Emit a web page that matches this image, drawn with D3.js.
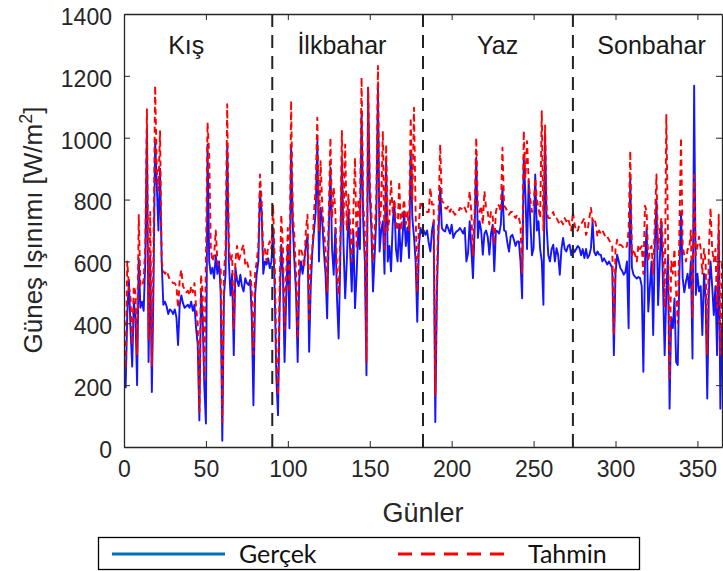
<!DOCTYPE html>
<html>
<head>
<meta charset="utf-8">
<script src="https://cdn.jsdelivr.net/npm/d3@7/dist/d3.min.js"></script>
<style>
  body { margin: 0; background: #fff; }
  svg { display: block; }
  .tick text { font-family: "Liberation Sans", Arial, sans-serif; font-size: 23px; fill: #262626; }
  .tick line { stroke: #262626; }
</style>
</head>
<body>
<svg id="chart" width="723" height="571"></svg>
<script>
// Günlük gerçek ve tahmin edilen güneş ışınımı (W/m2), gün 1..365
var gercek = [
  190, 430, 540, 380, 260, 470, 420, 200, 610, 450,
  470, 440, 600, 1030, 275, 620, 178, 520, 990, 850,
  700, 900, 600, 460, 470, 455, 430, 445, 440, 430,
  445, 420, 330, 460, 490, 465, 450, 455, 460, 450,
  470, 440, 460, 384, 330, 86, 500, 420, 200, 76,
  978, 600, 560, 580, 545, 620, 560, 600, 500, 20,
  490, 560, 978, 600, 490, 560, 297, 580, 540, 520,
  557, 520, 503, 546, 530, 524, 540, 420, 135, 490,
  560, 600, 827, 760, 560, 600, 590, 610, 578, 600,
  708, 500, 222, 103, 450, 654, 560, 275, 480, 654,
  384, 978, 720, 600, 500, 275, 546, 600, 560, 600,
  650, 686, 308, 520, 640, 700, 760, 989, 600, 773,
  730, 632, 560, 416, 700, 903, 640, 557, 708, 480,
  351, 600, 935, 650, 481, 600, 762, 640, 503, 700,
  449, 560, 708, 640, 1086, 730, 600, 232, 1162, 816,
  700, 503, 620, 740, 1162, 632, 700, 730, 560, 924,
  600, 650, 568, 720, 795, 640, 600, 720, 600, 680,
  762, 650, 710, 611, 957, 740, 680, 600, 405, 650,
  708, 690, 700, 686, 700, 660, 632, 700, 730, 81,
  500, 700, 838, 708, 700, 697, 719, 705, 690, 719,
  676, 690, 697, 700, 708, 700, 690, 708, 600, 627,
  730, 640, 546, 700, 935, 676, 730, 700, 622, 690,
  700, 680, 622, 690, 719, 568, 700, 697, 690, 720,
  838, 700, 697, 660, 632, 680, 686, 670, 650, 665,
  665, 600, 481, 935, 816, 640, 860, 730, 620, 643,
  881, 700, 730, 640, 600, 460, 1011, 708, 620, 600,
  640, 654, 600, 643, 620, 557, 640, 676, 640, 632,
  650, 654, 620, 643, 630, 640, 650, 643, 620, 640,
  611, 640, 611, 620, 643, 730, 632, 620, 632, 622,
  622, 600, 610, 600, 590, 600, 590, 578, 297, 560,
  622, 600, 578, 570, 557, 565, 600, 384, 870, 580,
  557, 550, 545, 550, 546, 520, 243, 600, 708, 438,
  520, 600, 362, 650, 795, 459, 600, 730, 520, 297,
  500, 620, 124, 420, 384, 480, 275, 265, 560, 760,
  546, 500, 535, 560, 514, 600, 286, 1168, 492, 560,
  503, 520, 362, 560, 480, 157, 500, 600, 520, 427,
  520, 297, 700, 124, 400
];
var tahmin = [
  260, 600, 520, 480, 330, 520, 500, 300, 750, 520,
  520, 540, 650, 1092, 350, 760, 260, 620, 1168, 900,
  830, 1021, 600, 568, 560, 570, 555, 540, 535, 530,
  530, 520, 450, 540, 573, 520, 510, 500, 505, 490,
  520, 500, 530, 450, 400, 113, 557, 500, 220, 600,
  1049, 946, 640, 600, 620, 700, 600, 580, 580, 80,
  560, 640, 1108, 650, 600, 620, 380, 600, 650, 600,
  620, 640, 654, 590, 600, 580, 578, 500, 300, 560,
  600, 650, 881, 800, 620, 640, 600, 650, 665, 640,
  784, 600, 300, 168, 520, 751, 650, 380, 560, 708,
  500, 1119, 760, 680, 560, 351, 643, 640, 620, 580,
  700, 751, 405, 600, 643, 760, 840, 1065, 700, 924,
  780, 700, 640, 503, 760, 1000, 740, 838, 760, 560,
  492, 660, 1022, 720, 978, 700, 816, 720, 600, 760,
  935, 640, 800, 740, 1195, 790, 700, 276, 1162, 860,
  760, 600, 700, 800, 1232, 720, 780, 1022, 640, 978,
  700, 740, 859, 760, 800, 720, 700, 859, 700, 760,
  800, 720, 762, 700, 1065, 800, 1097, 760, 500, 720,
  795, 780, 773, 770, 760, 760, 838, 784, 784, 168,
  560, 760, 978, 795, 790, 773, 770, 780, 760, 773,
  760, 751, 755, 760, 773, 770, 780, 773, 760, 773,
  827, 760, 622, 760, 1000, 773, 760, 780, 720, 827,
  773, 760, 720, 760, 751, 654, 760, 784, 780, 760,
  968, 780, 773, 760, 751, 760, 760, 750, 740, 751,
  740, 720, 560, 1022, 870, 989, 860, 800, 760, 780,
  870, 800, 773, 740, 1086, 700, 1040, 760, 740, 740,
  750, 760, 740, 740, 730, 719, 730, 720, 740, 730,
  740, 720, 700, 760, 720, 697, 700, 720, 720, 730,
  740, 686, 700, 740, 773, 730, 740, 720, 680, 700,
  690, 700, 690, 676, 680, 670, 660, 650, 362, 640,
  670, 654, 654, 650, 643, 640, 650, 700, 957, 620,
  640, 620, 600, 654, 640, 650, 560, 780, 762, 600,
  640, 650, 560, 730, 881, 640, 700, 741, 650, 450,
  1076, 700, 222, 600, 560, 640, 500, 400, 700, 1000,
  650, 620, 600, 640, 640, 700, 420, 880, 620, 650,
  680, 640, 560, 640, 600, 300, 640, 773, 640, 600,
  640, 450, 751, 300, 600
];
var mevsimler = ["Kış", "İlkbahar", "Yaz", "Sonbahar"];
var mevsimEtiketGunu = [38, 133, 228, 322];
var mevsimSinirlari = [90.5, 182.5, 274];
var xTicks = [0, 50, 100, 150, 200, 250, 300, 350];
var yTicks = [0, 200, 400, 600, 800, 1000, 1200, 1400];
var seriler = ["Gerçek", "Tahmin"];

(function () {
  var svg = d3.select('#chart');
  var pL = 124, pR = 722, pT = 14, pB = 447;

  var x = d3.scaleLinear().domain([0, 365]).range([pL, pR]);
  var y = d3.scaleLinear().domain([0, 1400]).range([pB, pT]);

  svg.append('defs').append('clipPath').attr('id', 'plotClip')
    .append('rect').attr('x', pL).attr('y', pT)
    .attr('width', pR - pL).attr('height', pB - pT);

  var plot = svg.append('g').attr('clip-path', 'url(#plotClip)');

  var line = d3.line()
    .x(function (d, i) { return x(i + 1); })
    .y(function (d) { return y(d); });

  plot.append('path').attr('d', line(gercek))
    .attr('fill', 'none').attr('stroke', '#1414ff').attr('stroke-width', 1.9)
    .attr('stroke-linejoin', 'round');
  plot.append('path').attr('d', line(tahmin))
    .attr('fill', 'none').attr('stroke', '#ff0000').attr('stroke-width', 1.9)
    .attr('stroke-dasharray', '6,4').attr('stroke-linejoin', 'round');

  // season borders
  plot.selectAll('.sinir').data(mevsimSinirlari).enter()
    .append('line').classed('sinir', true)
    .attr('x1', function (d) { return x(d); }).attr('x2', function (d) { return x(d); })
    .attr('y1', pT).attr('y2', pB)
    .attr('stroke', '#222').attr('stroke-width', 2).attr('stroke-dasharray', '13,8');

  svg.selectAll('.mevsim').data(mevsimler).enter()
    .append('text').classed('mevsim', true)
    .attr('x', function (d, i) { return x(mevsimEtiketGunu[i]); })
    .attr('y', 54)
    .attr('text-anchor', 'middle')
    .style('font-family', '"Liberation Sans", Arial, sans-serif')
    .style('font-size', '25px').style('fill', '#1a1a1a')
    .text(function (d) { return d; });

  // axes (MATLAB style, ticks inward, box on)
  svg.append('g').attr('transform', 'translate(0,' + pB + ')')
    .call(d3.axisBottom(x).tickValues(xTicks).tickSizeInner(-6).tickSizeOuter(0).tickPadding(14));
  svg.append('g').attr('transform', 'translate(0,' + pT + ')')
    .call(d3.axisTop(x).tickValues(xTicks).tickSizeInner(-6).tickSizeOuter(0).tickFormat(''));
  var gy = svg.append('g').attr('transform', 'translate(' + pL + ',0)')
    .call(d3.axisLeft(y).tickValues(yTicks).tickFormat(d3.format('d'))
      .tickSizeInner(-6).tickSizeOuter(0).tickPadding(12));
  svg.append('g').attr('transform', 'translate(' + pR + ',0)')
    .call(d3.axisRight(y).tickValues(yTicks).tickSizeInner(-6).tickSizeOuter(0).tickFormat(''));
  svg.selectAll('.domain').attr('stroke', '#262626').attr('stroke-width', 1.3);
  gy.selectAll('.tick text').attr('dy', '0.45em');

  svg.append('text')
    .attr('x', (pL + pR) / 2).attr('y', 522)
    .attr('text-anchor', 'middle')
    .style('font-family', '"Liberation Sans", Arial, sans-serif')
    .style('font-size', '27px').style('fill', '#262626')
    .text('Günler');

  var yl = svg.append('text')
    .attr('transform', 'translate(42,230) rotate(-90)')
    .attr('text-anchor', 'middle')
    .style('font-family', '"Liberation Sans", Arial, sans-serif')
    .style('font-size', '26px').style('fill', '#262626');
  yl.append('tspan').text('Güneş Işınımı [W/m');
  yl.append('tspan').attr('dy', -10).style('font-size', '18px').text('2');
  yl.append('tspan').attr('dy', 10).text(']');

  // legend
  var lg = svg.append('g');
  lg.append('rect').attr('x', 98.5).attr('y', 537.5).attr('width', 541).attr('height', 32)
    .attr('fill', '#fff').attr('stroke', '#000').attr('stroke-width', 1.3);
  var legendItems = [
    { ad: seriler[0], x1: 112, x2: 225, tx: 239, renk: '#0072bd', dash: null },
    { ad: seriler[1], x1: 398, x2: 511, tx: 528, renk: '#ff0000', dash: '14,9' }
  ];
  legendItems.forEach(function (it) {
    lg.append('line').attr('x1', it.x1).attr('x2', it.x2).attr('y1', 554).attr('y2', 554)
      .attr('stroke', it.renk).attr('stroke-width', 3)
      .attr('stroke-dasharray', it.dash);
    lg.append('text').attr('x', it.tx).attr('y', 563)
      .style('font-family', 'Lato, "Open Sans", sans-serif')
      .style('font-size', '25px').style('fill', '#111')
      .text(it.ad);
  });
})();
</script>
</body>
</html>
